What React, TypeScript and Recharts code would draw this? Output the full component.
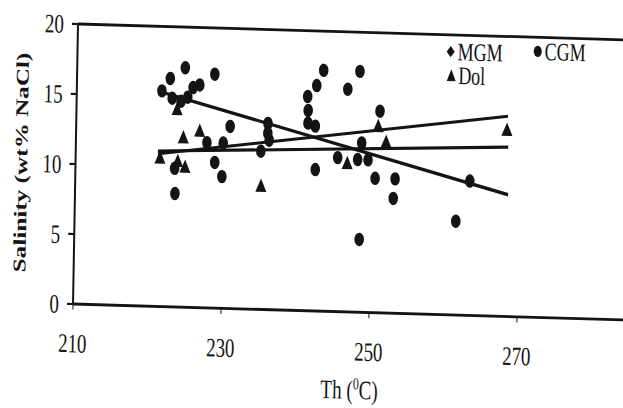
import React from 'react';
import { ScatterChart, Scatter, XAxis, YAxis, ReferenceLine, Legend } from 'recharts';

// axis ticks
const thTicks = [210, 230, 250, 270];
const salinityTicks = [0, 5, 10, 15, 20];

// MGM inclusions
const mgmTh = [224.6, 222.6, 228.6, 221.5, 225.7, 226.6, 222.9, 224.1, 225.0, 243.3, 242.4, 241.2, 241.3, 241.3, 242.3, 246.6, 248.2, 251.0, 248.5, 261.5, 263.3, 253.0];
const mgmSal = [17.1, 16.3, 16.7, 15.4, 15.7, 15.9, 14.9, 14.7, 15.0, 17.2, 16.1, 15.3, 14.3, 13.4, 13.2, 15.9, 17.2, 14.4, 5.2, 6.7, 9.6, 8.2];

// CGM inclusions
const cgmTh = [230.8, 227.7, 229.9, 223.4, 228.8, 229.8, 223.5, 235.9, 235.9, 236.1, 235.0, 242.4, 245.4, 248.1, 249.5, 248.6, 250.5, 253.2];
const cgmSal = [13.0, 11.8, 11.8, 9.9, 10.4, 9.4, 8.1, 13.3, 12.6, 12.1, 11.3, 10.1, 11.0, 10.9, 10.9, 12.1, 9.6, 9.6];

// Dol inclusions
const dolTh = [223.6, 226.7, 224.5, 221.4, 223.8, 224.8, 235.1, 246.7, 250.8, 251.9, 268.2];
const dolSal = [14.1, 12.6, 12.1, 10.6, 10.4, 10.0, 8.8, 10.6, 13.3, 12.2, 13.3];

// trend line end points
const mgmTrendTh = [221.6, 268.5];
const mgmTrendSal = [15.3, 8.7];
const cgmTrendTh = [221.1, 268.4];
const cgmTrendSal = [11.1, 12.1];
const dolTrendTh = [221.1, 268.3];
const dolTrendSal = [10.9, 14.3];

const INK = '#141414';
const SERIF = '"Liberation Serif", "Times New Roman", serif';

const toPoints = (xs: number[], ys: number[]) => xs.map((x, i) => ({ th: x, sal: ys[i] }));

const mgmData = toPoints(mgmTh, mgmSal);
const cgmData = toPoints(cgmTh, cgmSal);
const dolData = toPoints(dolTh, dolSal);

const trendSegment = (xs: number[], ys: number[]) => [
  { x: xs[0], y: ys[0] },
  { x: xs[1], y: ys[1] },
];

const Dot = (props: any) => <circle cx={props.cx} cy={props.cy} r={4.8} fill={INK} />;

const Tri = (props: any) => {
  const { cx, cy } = props;
  return <polygon points={`${cx},${cy - 5.5} ${cx - 5.5},${cy + 4} ${cx + 5.5},${cy + 4}`} fill={INK} />;
};

const XTick = ({ x, y, payload }: any) => (
  <text x={x} y={y} dy="0.71em" textAnchor="middle" fontFamily={SERIF} fontSize={19} fill={INK}>
    {payload.value}
  </text>
);

const YTick = ({ x, y, payload }: any) => (
  <text x={x} y={y} dy="0.35em" textAnchor="end" fontFamily={SERIF} fontSize={19} fill={INK}>
    {payload.value}
  </text>
);

const XTitle = ({ viewBox }: any) => {
  const cx = viewBox.x + viewBox.width / 2;
  return (
    <text x={cx} y={viewBox.y + 62} textAnchor="middle" fontFamily={SERIF} fontSize={19} fill={INK}>
      Th (
      <tspan dy={-7} fontSize={12}>0</tspan>
      <tspan dy={7}>C)</tspan>
    </text>
  );
};

const YTitle = ({ viewBox }: any) => {
  const cy = viewBox.y + viewBox.height / 2;
  return (
    <text
      x={18.5}
      y={cy}
      transform={`rotate(-90, 18.5, ${cy})`}
      textAnchor="middle"
      dominantBaseline="central"
      fontFamily={SERIF}
      fontWeight="bold"
      fontSize={18}
      fill={INK}
    >
      Salinity (wt% NaCl)
    </text>
  );
};

const legendItems = [
  { name: 'MGM', mark: 'diamond', left: 446, top: 116 },
  { name: 'CGM', mark: 'circle', left: 533, top: 114 },
  { name: 'Dol', mark: 'triangle', left: 447, top: 133 },
];

const LegendMark = ({ mark }: { mark: string }) => (
  <svg width={10} height={10} style={{ position: 'absolute', left: -5, top: -5 }}>
    {mark === 'diamond' && <polygon points="5,1 9,5 5,9 1,5" fill={INK} />}
    {mark === 'circle' && <circle cx={5} cy={5} r={4} fill={INK} />}
    {mark === 'triangle' && <polygon points="5,0.5 9.5,9 0.5,9" fill={INK} />}
  </svg>
);

const LegendBox = () => (
  <div style={{ position: 'relative', width: 0, height: 0 }}>
    {legendItems.map((it) => (
      <div key={it.name} style={{ position: 'absolute', left: it.left, top: it.top }}>
        <LegendMark mark={it.mark} />
        <span
          style={{
            position: 'absolute',
            left: 7,
            top: -10,
            lineHeight: '20px',
            fontFamily: SERIF,
            fontSize: 18,
            color: INK,
            whiteSpace: 'nowrap',
          }}
        >
          {it.name}
        </span>
      </div>
    ))}
  </div>
);

export default function App() {
  return (
    <div
      style={{
        position: 'fixed',
        left: 0,
        top: 0,
        width: 623,
        height: 408,
        overflow: 'hidden',
        background: '#fff',
      }}
    >
      {/* the scan is slightly tilted and stretched vertically */}
      <div
        style={{
          position: 'absolute',
          left: 0,
          top: 0,
          width: 640,
          height: 408,
          transform: 'matrix(1, 0.029, -0.025, 1.4, 0, 0)',
          transformOrigin: '73px 304px',
        }}
      >
        <ScatterChart width={640} height={408} margin={{ top: 104, right: 12, bottom: 44, left: 28 }}>
          <XAxis
            type="number"
            dataKey="th"
            domain={[210, 285]}
            ticks={thTicks}
            allowDataOverflow
            height={60}
            axisLine={{ stroke: INK, strokeWidth: 2 }}
            tickLine={{ stroke: INK, strokeWidth: 1 }}
            tickSize={4}
            tickMargin={17}
            tick={<XTick />}
            label={XTitle}
          />
          <YAxis
            type="number"
            dataKey="sal"
            domain={[0, 20]}
            ticks={salinityTicks}
            allowDataOverflow
            width={45}
            axisLine={{ stroke: INK, strokeWidth: 2 }}
            tickLine={{ stroke: INK, strokeWidth: 1.5 }}
            tickSize={6}
            tickMargin={8}
            tick={<YTick />}
            label={YTitle}
          />
          <ReferenceLine y={20} stroke={INK} strokeWidth={2} />
          <ReferenceLine segment={trendSegment(mgmTrendTh, mgmTrendSal)} stroke={INK} strokeWidth={2.4} />
          <ReferenceLine segment={trendSegment(cgmTrendTh, cgmTrendSal)} stroke={INK} strokeWidth={2.2} />
          <ReferenceLine segment={trendSegment(dolTrendTh, dolTrendSal)} stroke={INK} strokeWidth={2.2} />
          <Scatter name="MGM" data={mgmData} shape={Dot} isAnimationActive={false} />
          <Scatter name="CGM" data={cgmData} shape={Dot} isAnimationActive={false} />
          <Scatter name="Dol" data={dolData} shape={Tri} isAnimationActive={false} />
          <Legend
            layout="vertical"
            align="center"
            verticalAlign="middle"
            content={<LegendBox />}
            wrapperStyle={{ left: 0, top: 0, width: 0, height: 0 }}
          />
        </ScatterChart>
      </div>
    </div>
  );
}
